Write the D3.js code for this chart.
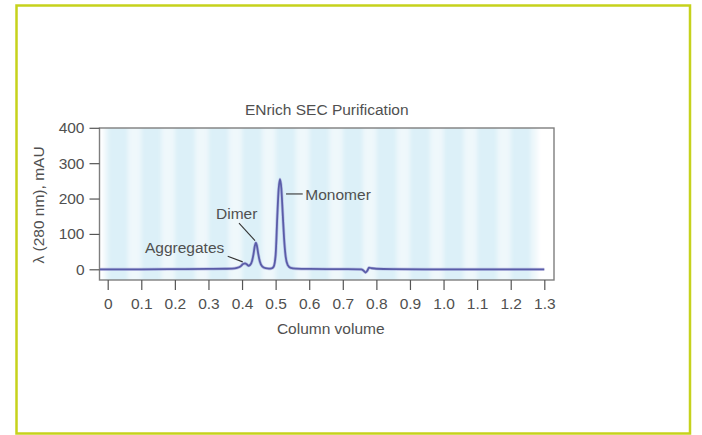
<!DOCTYPE html>
<html>
<head>
<meta charset="utf-8">
<script src="https://cdn.jsdelivr.net/npm/d3@7/dist/d3.min.js"></script>
<style>
  html, body { margin: 0; padding: 0; background: #fff; }
  svg { display: block; }
  text { font-family: "Liberation Sans", Arial, Helvetica, sans-serif; fill: #505050; }
</style>
</head>
<body>
<svg id="chart" width="702" height="435"></svg>
<script>
// ---- data ----
const title = "ENrich SEC Purification";
const xLabel = "Column volume";
const yLabel = "λ (280 nm), mAU";

const xTicks = [0, 0.1, 0.2, 0.3, 0.4, 0.5, 0.6, 0.7, 0.8, 0.9, 1.0, 1.1, 1.2, 1.3];
const xTickLabels = ["0", "0.1", "0.2", "0.3", "0.4", "0.5", "0.6", "0.7", "0.8", "0.9", "1.0", "1.1", "1.2", "1.3"];
const yTicks = [0, 100, 200, 300, 400];
const yTickLabels = ["0", "100", "200", "300", "400"];

// chromatogram (column volume, mAU)
const volume = [-0.023, 0.05, 0.1, 0.2, 0.3, 0.35, 0.37, 0.385, 0.395, 0.403, 0.409, 0.414, 0.419, 0.424,
  0.43, 0.434, 0.438, 0.441, 0.444, 0.448, 0.453, 0.46, 0.47, 0.48, 0.488, 0.494,
  0.5, 0.505, 0.509, 0.513, 0.517, 0.521, 0.525, 0.53, 0.536, 0.545, 0.56, 0.6, 0.7,
  0.755, 0.762, 0.768, 0.773, 0.778, 0.786, 0.8, 0.85, 0.95, 1.1, 1.3];
const absorbance = [0, 0, 0, 0.5, 1, 1.5, 2, 4, 8, 15, 17, 14, 10, 12,
  24, 42, 66, 75, 68, 45, 22, 8, 3, 2, 2.5, 7,
  40, 150, 226, 255, 229, 160, 90, 35, 12, 4, 2, 1, 0.5,
  0, -4, -9, -4, 4.5, 3, 1.5, 0.5, 0, 0, 0];

// fraction-collection bands (start volume of each darker band, band width in column volume)
const bandStarts = [0, 0.1, 0.2, 0.3, 0.4, 0.5, 0.6, 0.7, 0.8, 0.9, 1.0, 1.1, 1.2];
const bandWidth = 0.06;
const bandsEnd = 1.28;

// peak annotations: label, point on curve the leader points at
const annLabels = ["Aggregates", "Dimer", "Monomer"];
const annVolume = [0.402, 0.4386, 0.531];
const annValue = [21, 81, 213];

// ---- drawing ----
const svg = d3.select("#chart");

// outer frame
svg.append("rect").attr("x", 16.5).attr("y", 5.5).attr("width", 673.5).attr("height", 428)
  .attr("fill", "none").attr("stroke", "#c6d21c").attr("stroke-width", 2.5);

const plot = { left: 99.5, right: 554, top: 128, bottom: 280 };
const x = d3.scaleLinear().domain([0, 1.3]).range([107.7, 544.3]);
const y = d3.scaleLinear().domain([0, 400]).range([269.3, 127.8]);

const defs = svg.append("defs");
defs.append("clipPath").attr("id", "plotclip").append("rect")
  .attr("x", plot.left).attr("y", plot.top).attr("width", plot.right - plot.left).attr("height", plot.bottom - plot.top);
defs.append("filter").attr("id", "soft").attr("x", "-10%").attr("width", "120%")
  .append("feGaussianBlur").attr("stdDeviation", "2.2 0");

const bg = svg.append("g").attr("clip-path", "url(#plotclip)");
const bandG = bg.append("g").attr("filter", "url(#soft)");
bandG.append("rect").attr("x", x(-0.012)).attr("y", plot.top - 5)
  .attr("width", x(bandsEnd) - x(-0.012)).attr("height", plot.bottom - plot.top + 10)
  .attr("fill", "#eff8fb");
bandG.selectAll("rect.band").data(bandStarts).join("rect").attr("class", "band")
  .attr("x", d => x(d)).attr("y", plot.top - 5)
  .attr("width", d => x(Math.min(d + bandWidth, bandsEnd)) - x(d))
  .attr("height", plot.bottom - plot.top + 10)
  .attr("fill", "#dcf0f8");

// frame
svg.append("rect").attr("x", plot.left).attr("y", plot.top)
  .attr("width", plot.right - plot.left).attr("height", plot.bottom - plot.top)
  .attr("fill", "none").attr("stroke", "#7e7e7e").attr("stroke-width", 1.4);

// y axis
const yAxis = d3.axisLeft(y).tickValues(yTicks).tickFormat((d, i) => yTickLabels[i]).tickSize(10).tickPadding(5);
const gy = svg.append("g").attr("transform", `translate(${plot.left},0)`).call(yAxis);
gy.select(".domain").remove();
gy.selectAll("line").attr("stroke", "#555").attr("stroke-width", 1.2);
gy.selectAll("text").attr("font-size", 15.5).attr("fill", "#505050")
  .attr("font-family", "Liberation Sans, Arial, sans-serif");

// x axis
const xAxis = d3.axisBottom(x).tickValues(xTicks).tickFormat((d, i) => xTickLabels[i]).tickSize(10).tickPadding(8);
const gx = svg.append("g").attr("transform", `translate(0,${plot.bottom})`).call(xAxis);
gx.select(".domain").remove();
gx.selectAll("line").attr("stroke", "#555").attr("stroke-width", 1.2);
gx.selectAll("text").attr("font-size", 15.5).attr("fill", "#505050")
  .attr("font-family", "Liberation Sans, Arial, sans-serif");

// titles
svg.append("text").attr("x", (plot.left + plot.right) / 2).attr("y", 115)
  .attr("text-anchor", "middle").attr("font-size", 15.5).text(title);
svg.append("text").attr("x", (plot.left + plot.right) / 2 + 4).attr("y", 333.5)
  .attr("text-anchor", "middle").attr("font-size", 15.5).text(xLabel);
svg.append("text").attr("transform", `translate(44,${205}) rotate(-90)`)
  .attr("text-anchor", "middle").attr("font-size", 15.5).text(yLabel);

// chromatogram line
const pts = volume.map((v, i) => [v, absorbance[i]]);
const line = d3.line().x(d => x(d[0])).y(d => y(d[1])).curve(d3.curveMonotoneX);
svg.append("path").datum(pts).attr("d", line)
  .attr("fill", "none").attr("stroke", "#8d8fd0").attr("stroke-width", 3.2).attr("stroke-opacity", 0.45)
  .attr("stroke-linejoin", "round");
svg.append("path").datum(pts).attr("d", line)
  .attr("fill", "none").attr("stroke", "#5a5ca8").attr("stroke-width", 1.8)
  .attr("stroke-linejoin", "round");

// annotations (leader offsets in px relative to the curve point)
const annDx = [[-15, -5.7], [-16, -17.4], [16.7, 0]];
const annText = [[-97.7, -9], [-39, -21.4], [19.3, 6]];
annLabels.forEach((lab, i) => {
  const px = x(annVolume[i]), py = y(annValue[i]);
  svg.append("line").attr("x1", px).attr("y1", py)
    .attr("x2", px + annDx[i][0]).attr("y2", py + annDx[i][1])
    .attr("stroke", "#333").attr("stroke-width", 1.1);
  svg.append("text").attr("x", px + annText[i][0]).attr("y", py + annText[i][1])
    .attr("font-size", 15.5).text(lab);
});
</script>
</body>
</html>
